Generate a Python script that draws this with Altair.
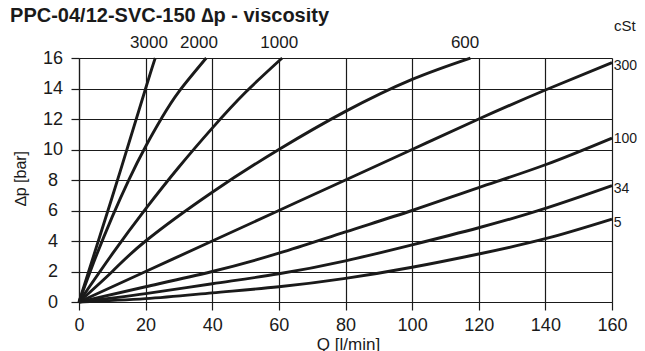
import altair as alt
import pandas as pd

FONT = "Liberation Sans, Arial, sans-serif"
INK = "#1a1a1a"

# viscosity curves (cSt): flow Q [l/min] and pressure drop dp [bar]
visc = ["3000", "2000", "1000", "600", "300", "100", "34", "5"]
q_3000 = [0, 10, 20, 22.9]
dp_3000 = [0, 6.9, 14, 16]
q_2000 = [0, 5, 10, 15, 20, 25, 30, 38.2]
dp_2000 = [0, 2.93, 5.6, 8.03, 10.2, 12.13, 13.8, 16]
q_1000 = [0, 10, 20, 30, 40, 50, 61]
dp_1000 = [0, 3.15, 6.1, 8.85, 11.4, 13.75, 16]
q_600 = [0, 10, 20, 40, 60, 80, 100, 117.5]
dp_600 = [0, 2, 4, 7.2, 10, 12.5, 14.6, 16]
q_common = [0, 20, 40, 60, 80, 100, 120, 140, 160]
dp_300 = [0, 2, 4, 6, 8, 10, 12, 13.9, 15.7]
dp_100 = [0, 1.0, 2.0, 3.2, 4.6, 6.0, 7.5, 9.0, 10.75]
dp_34 = [0, 0.55, 1.2, 1.85, 2.7, 3.75, 4.87, 6.14, 7.63]
dp_5 = [0, 0.22, 0.6, 1.0, 1.55, 2.28, 3.15, 4.15, 5.44]

series_q = [q_3000, q_2000, q_1000, q_600, q_common, q_common, q_common, q_common]
series_dp = [dp_3000, dp_2000, dp_1000, dp_600, dp_300, dp_100, dp_34, dp_5]

x_ticks = [0, 20, 40, 60, 80, 100, 120, 140, 160]
y_ticks = [0, 2, 4, 6, 8, 10, 12, 14, 16]

# texts
title_text = ["PPC-04/12-SVC-150 ∆p - viscosity"]
title_q = [-20.7]
title_dp = [18.34]
top_labels = ["3000", "2000", "1000", "600"]
top_q = [21.0, 36.0, 60.1, 115.9]
top_dp = [17.0, 17.0, 17.0, 17.0]
right_labels = ["300", "100", "34", "5"]
right_q = [160.5, 160.5, 160.5, 160.5]
right_dp = [15.5, 10.66, 7.38, 5.18]
unit_label = ["cSt"]
unit_q = [160.6]
unit_dp = [18.1]

rows = []
for name, qs, dps in zip(visc, series_q, series_dp):
    for i, (q, dp) in enumerate(zip(qs, dps)):
        rows.append({"visc": name, "i": i, "Q": q, "dp": dp})
df = pd.DataFrame(rows)
df_title = pd.DataFrame({"label": title_text, "Q": title_q, "dp": title_dp})
df_top = pd.DataFrame({"label": top_labels, "Q": top_q, "dp": top_dp})
df_right = pd.DataFrame({"label": right_labels, "Q": right_q, "dp": right_dp})
df_unit = pd.DataFrame({"label": unit_label, "Q": unit_q, "dp": unit_dp})

xscale = alt.Scale(domain=[0, 160], nice=False, zero=False)
yscale = alt.Scale(domain=[0, 16], nice=False, zero=False)

xaxis = alt.Axis(
    values=x_ticks, title="Q [l/min]", grid=True, gridColor=INK, gridWidth=1.2, gridOpacity=1,
    domainColor=INK, domainWidth=1.2, tickColor=INK, tickWidth=1.2, tickSize=8,
    labelFont=FONT, labelFontSize=18, labelColor=INK, labelPadding=6, labelFlush=False,
    labelOverlap=False,
    titleFont=FONT, titleFontSize=17, titleFontWeight="normal", titleColor=INK,
    titleX=269, titleY=47, titleBaseline="alphabetic", titleAlign="center",
)
yaxis = alt.Axis(
    values=y_ticks, title="∆p [bar]", grid=True, gridColor=INK, gridWidth=1.2, gridOpacity=1,
    domainColor=INK, domainWidth=1.2, tickColor=INK, tickWidth=1.2, tickSize=8,
    labelFont=FONT, labelFontSize=18, labelColor=INK, labelPadding=18.5, labelAlign="center",
    labelBaseline="middle", labelFlush=False, labelOverlap=False,
    titleFont=FONT, titleFontSize=16, titleFontWeight="normal", titleColor=INK,
    titleX=-59, titleY=120, titleAngle=270, titleBaseline="middle", titleAlign="center",
)

X = alt.X("Q:Q", scale=xscale, axis=xaxis)
Y = alt.Y("dp:Q", scale=yscale, axis=yaxis)

lines = alt.Chart(df).mark_line(interpolate="natural", color=INK, strokeWidth=2.9).encode(
    x=X, y=Y, detail="visc:N", order="i:Q",
)

title_mark = alt.Chart(df_title).mark_text(
    font=FONT, fontSize=20, fontWeight="bold", color=INK, align="left", baseline="alphabetic"
).encode(x=X, y=Y, text="label:N")

top_text = alt.Chart(df_top).mark_text(
    font=FONT, fontSize=17, color=INK, align="center", baseline="middle"
).encode(x=X, y=Y, text="label:N")

right_text = alt.Chart(df_right).mark_text(
    font=FONT, fontSize=14, color=INK, align="left", baseline="middle"
).encode(x=X, y=Y, text="label:N")

unit_text = alt.Chart(df_unit).mark_text(
    font=FONT, fontSize=15, color=INK, align="left", baseline="middle"
).encode(x=X, y=Y, text="label:N")

chart = (
    alt.layer(lines, title_mark, top_text, right_text, unit_text)
    .properties(
        width=533,
        height=244,
        autosize=alt.AutoSizeParams(type="none"),
        padding={"left": 71, "top": 50, "right": 25, "bottom": 52},
    )
    .configure_view(strokeWidth=0)
    .configure(background="white")
)

chart.save("out.html", embed_options={"renderer": "svg", "actions": False})
